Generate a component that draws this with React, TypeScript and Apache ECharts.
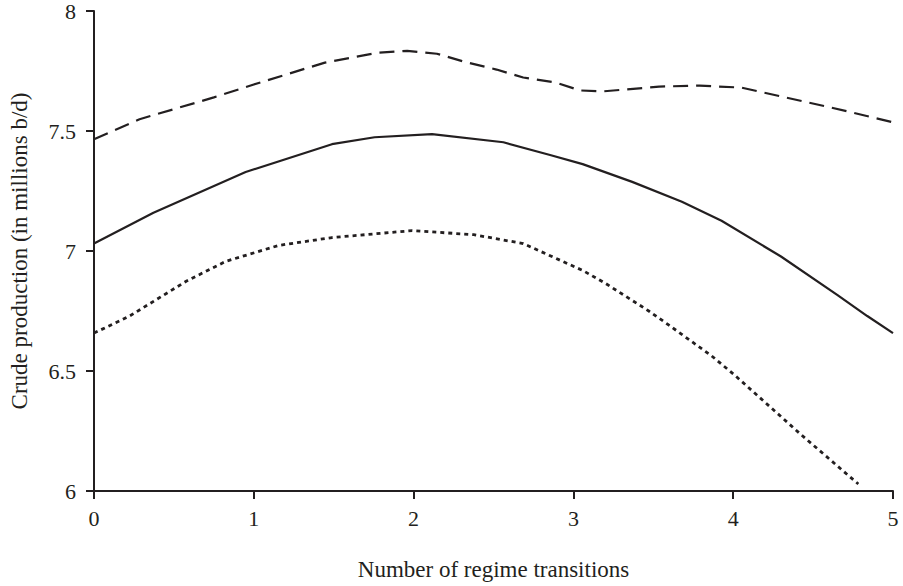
import React, { useEffect, useRef } from "react";
import * as echarts from "echarts";

const xTicks = [0, 1, 2, 3, 4, 5];
const yTicks = [6, 6.5, 7, 7.5, 8];

const solidLine: [number, number][] = [
  [0, 7.031], [0.372, 7.159], [0.949, 7.329], [1.489, 7.445], [1.756, 7.474],
  [2.115, 7.487], [2.562, 7.453], [2.854, 7.4], [3.058, 7.362], [3.368, 7.288],
  [3.679, 7.205], [3.927, 7.126], [4.299, 6.977], [4.653, 6.816], [4.839, 6.729],
  [5, 6.658],
];

const dashedLine: [number, number][] = [
  [0, 7.466], [0.285, 7.549], [0.75, 7.64], [1.0, 7.694], [1.445, 7.785],
  [1.774, 7.826], [1.96, 7.834], [2.146, 7.822], [2.314, 7.789], [2.519, 7.756],
  [2.686, 7.723], [2.891, 7.702], [3.04, 7.669], [3.182, 7.665], [3.536, 7.685],
  [3.79, 7.689], [4.051, 7.681], [4.299, 7.644], [4.609, 7.598], [4.715, 7.582],
  [5, 7.536],
];

const dottedLine: [number, number][] = [
  [0, 6.658], [0.223, 6.729], [0.577, 6.874], [0.825, 6.957], [1.154, 7.023],
  [1.489, 7.056], [1.991, 7.085], [2.376, 7.068], [2.686, 7.031], [3.058, 6.919],
  [3.201, 6.865], [3.474, 6.749], [3.598, 6.691], [3.865, 6.563], [4.007, 6.484],
  [4.423, 6.236], [4.783, 6.029],
];

const INK = "#231f20";
const FONT = "'Liberation Serif', 'Times New Roman', serif";

export default function App() {
  const ref = useRef<HTMLDivElement>(null);
  useEffect(() => {
    document.body.style.margin = "0";
    if (!ref.current) return;
    const chart = echarts.init(ref.current, null, { renderer: "svg" });
    chart.setOption({
      animation: false,
      backgroundColor: "#ffffff",
      grid: { left: 86, right: 10, top: 11, bottom: 93, containLabel: false },
      xAxis: {
        type: "value",
        min: xTicks[0],
        max: xTicks[xTicks.length - 1],
        interval: 1,
        name: "Number of regime transitions",
        nameLocation: "middle",
        nameGap: 67,
        nameTextStyle: { fontFamily: FONT, fontSize: 23, color: INK },
        axisLine: { show: true, lineStyle: { color: INK, width: 2 } },
        axisTick: { show: true, length: 8, inside: false, lineStyle: { color: INK, width: 2 } },
        axisLabel: { fontFamily: FONT, fontSize: 22, color: INK, margin: 16 },
        splitLine: { show: false },
      },
      yAxis: {
        type: "value",
        min: yTicks[0],
        max: yTicks[yTicks.length - 1],
        interval: 0.5,
        name: "Crude production (in millions b/d)",
        nameLocation: "middle",
        nameGap: 63,
        nameTextStyle: { fontFamily: FONT, fontSize: 23, color: INK },
        axisLine: { show: true, lineStyle: { color: INK, width: 2 } },
        axisTick: { show: true, length: 8, inside: false, lineStyle: { color: INK, width: 2 } },
        axisLabel: { fontFamily: FONT, fontSize: 22, color: INK, margin: 18 },
        splitLine: { show: false },
      },
      series: [
        {
          type: "line",
          data: dashedLine,
          showSymbol: false,
          smooth: false,
          lineStyle: { color: INK, width: 2.2, type: [15, 8] },
        },
        {
          type: "line",
          data: solidLine,
          showSymbol: false,
          smooth: false,
          lineStyle: { color: INK, width: 2.2, type: "solid" },
        },
        {
          type: "line",
          data: dottedLine,
          showSymbol: false,
          smooth: false,
          lineStyle: { color: INK, width: 2.8, type: [4, 4] },
        },
      ],
    });
    return () => chart.dispose();
  }, []);
  return <div ref={ref} style={{ width: 903, height: 586 }} />;
}
